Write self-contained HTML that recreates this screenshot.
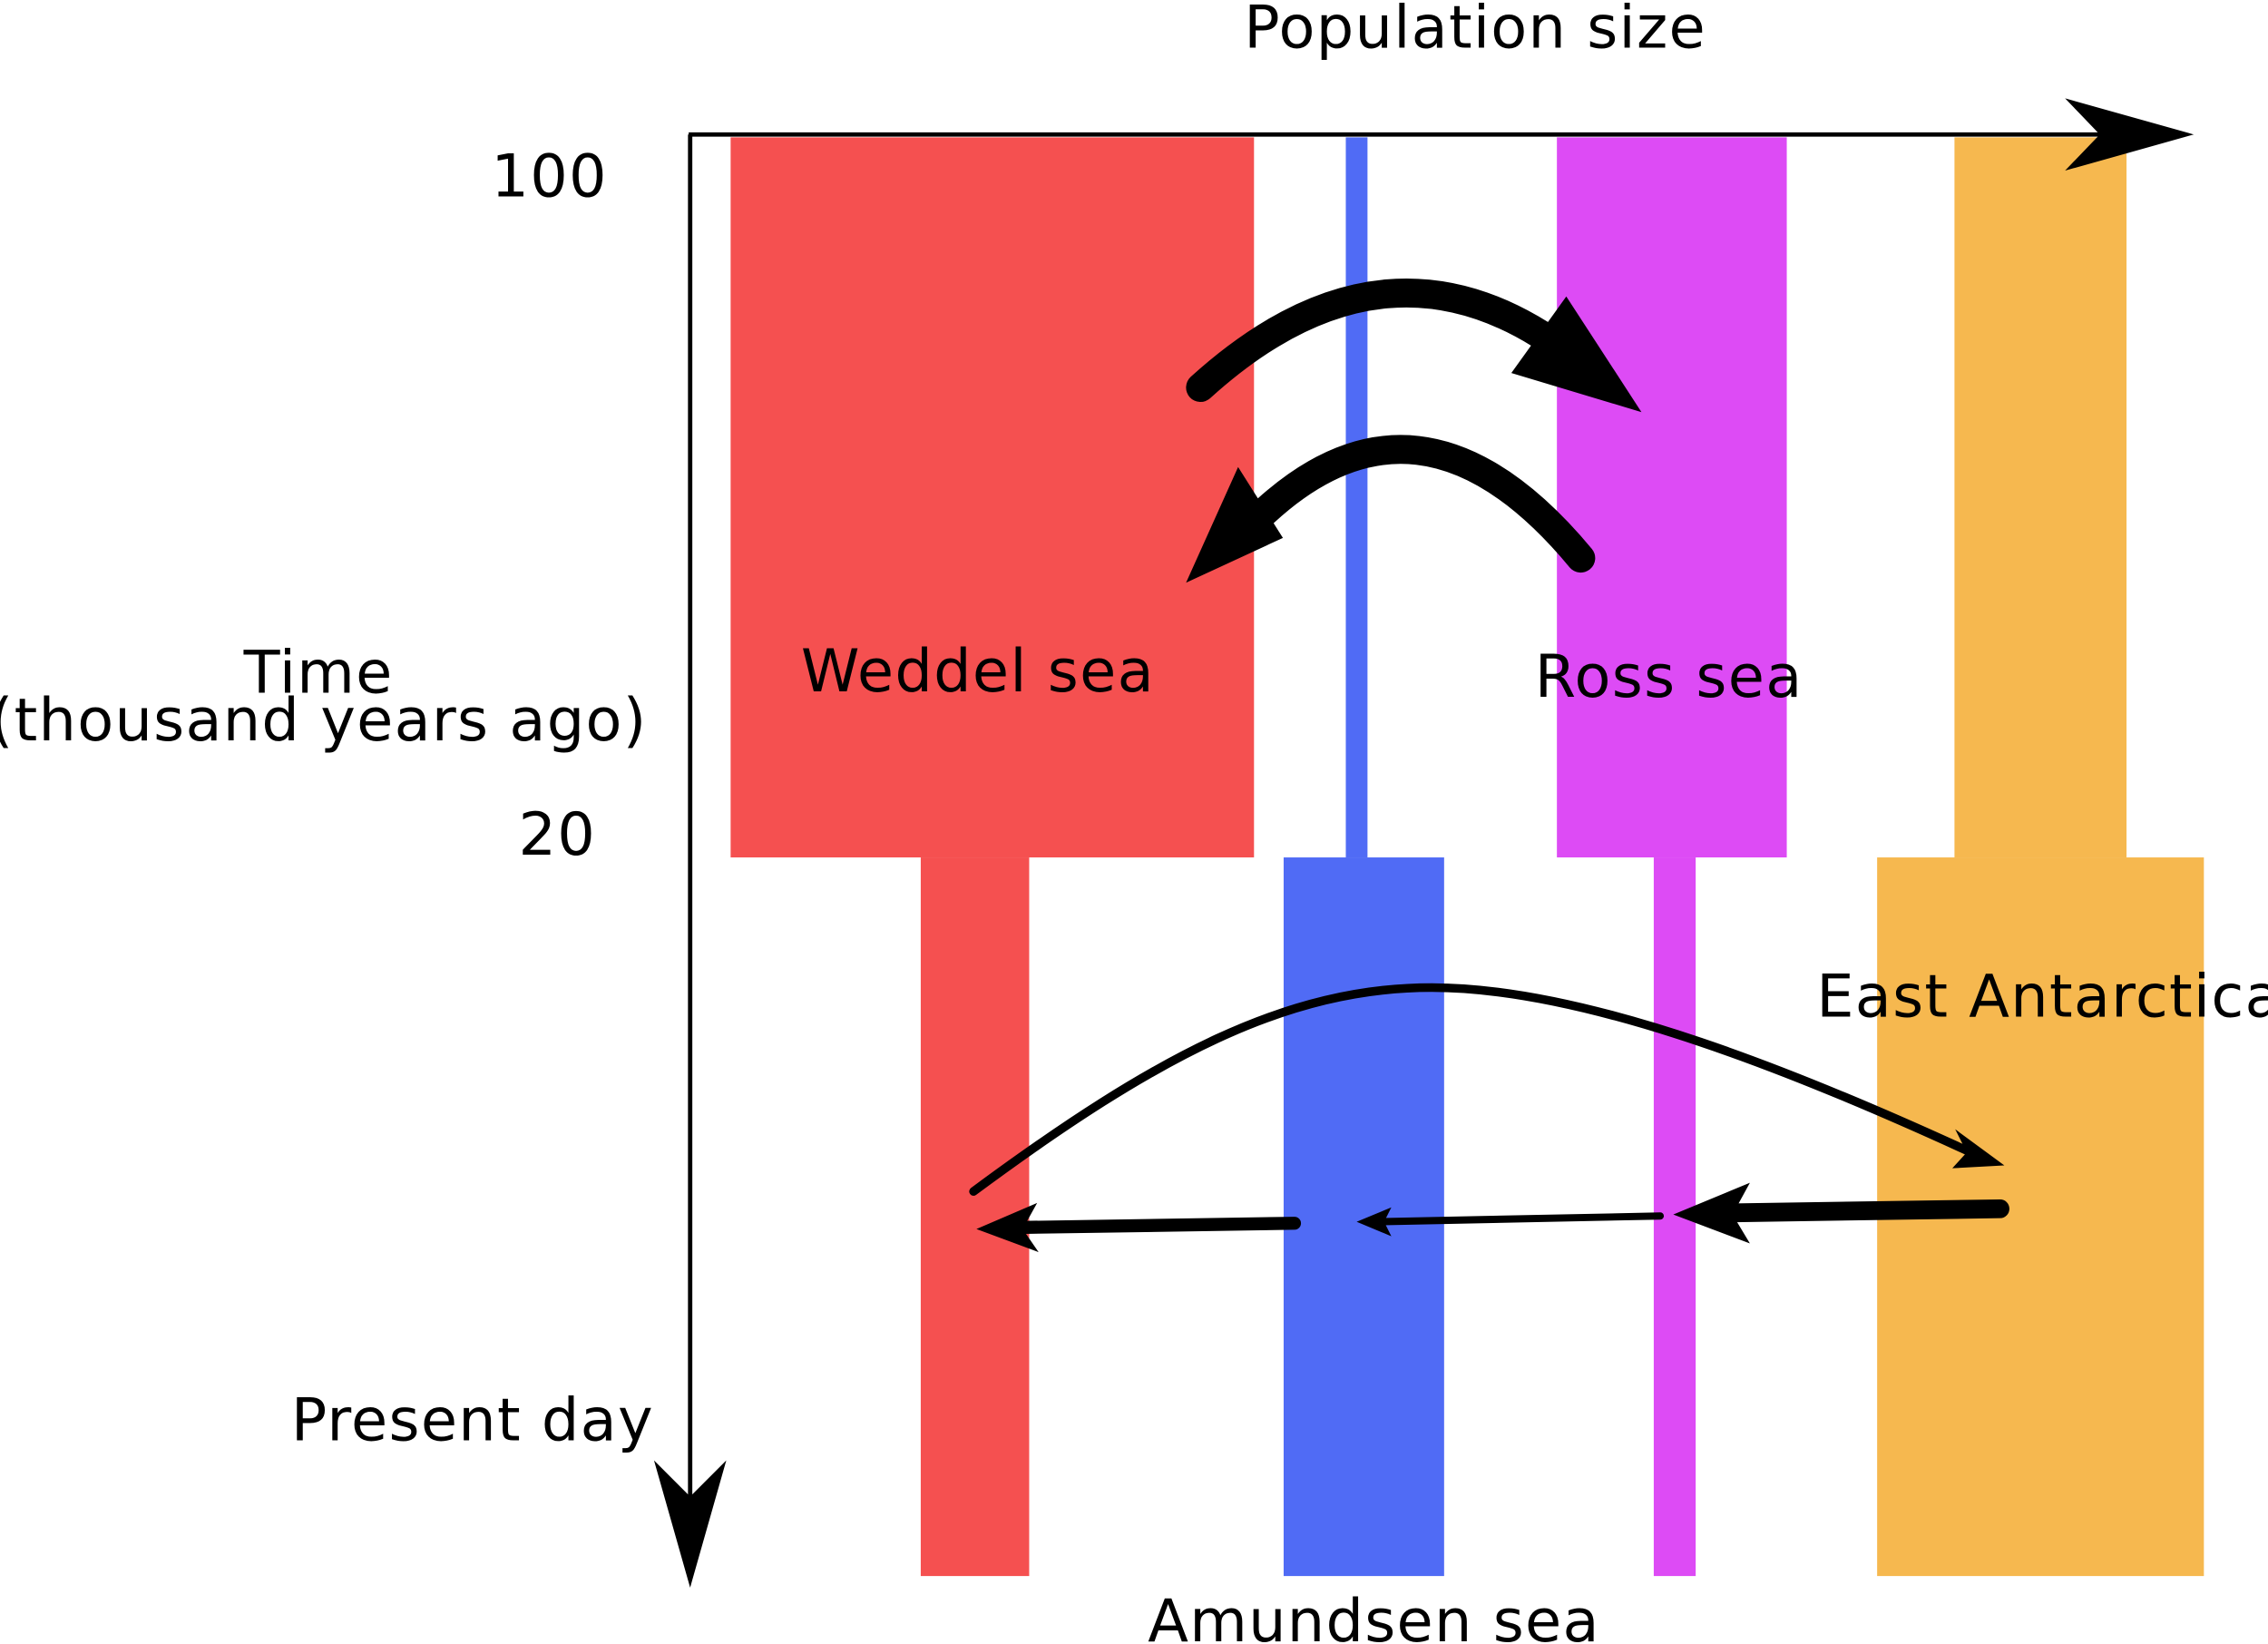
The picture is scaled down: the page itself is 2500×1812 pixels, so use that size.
<!DOCTYPE html>
<html>
<head>
<meta charset="utf-8">
<style>
html,body{margin:0;padding:0;background:#fff;}
svg{display:block;}
text{font-family:"DejaVu Sans","Liberation Sans",sans-serif;fill:#000;letter-spacing:0.8px;}
</style>
</head>
<body>
<svg id="chart" width="2500" height="1812" viewBox="0 0 1568 1137" xmlns="http://www.w3.org/2000/svg">
  <g id="bars"></g>

  <line x1="477" y1="93" x2="477" y2="1060" stroke="#000" stroke-width="3"/>
  <path d="M477,1098 L452,1010 L477,1035 L502,1010 z" fill="#000"/>
  <line x1="476" y1="93" x2="1480" y2="93" stroke="#000" stroke-width="3"/>
  <path d="M1517,93 L1428,68 L1452,93 L1428,118 z" fill="#000"/>

  <text x="1020" y="33" font-size="41" text-anchor="middle">Population size</text>
  <text x="420" y="136" font-size="41" text-anchor="end">100</text>
  <text x="412" y="591" font-size="41" text-anchor="end">20</text>
  <text x="220" y="479" font-size="41" text-anchor="middle">Time</text>
  <text x="220" y="512" font-size="41" text-anchor="middle">(thousand years ago)</text>
  <text x="452" y="996" font-size="41" text-anchor="end">Present day</text>

  <text x="676" y="478" font-size="41" text-anchor="middle">Weddel sea</text>
  <text x="1154" y="482" font-size="41" text-anchor="middle">Ross sea</text>
  <text x="1256" y="703" font-size="41">East Antarctica</text>
  <text x="950" y="1135" font-size="41" text-anchor="middle">Amundsen sea</text>

  <path d="M830,268 Q960,150 1085,245" fill="none" stroke="#000" stroke-width="20" stroke-linecap="round"/>
  <path d="M1135,285 L1045,258 L1083,205 z" fill="#000"/>
  <path d="M1093,386 Q980,250 868,360" fill="none" stroke="#000" stroke-width="20" stroke-linecap="round"/>
  <path d="M820,403 L856,323 L887,372 z" fill="#000"/>
  <path d="M673,824 C800,730 890,683 990,683 C1100,683 1250,745 1365,798" fill="none" stroke="#000" stroke-width="6" stroke-linecap="round"/>
  <path d="M1386,806 L1352,781 L1360,797 L1350,808 z" fill="#000"/>
  <line x1="895" y1="846" x2="700" y2="849" stroke="#000" stroke-width="9" stroke-linecap="round"/>
  <path d="M675,850 L717,832 L707,850 L718,866 z" fill="#000"/>
  <line x1="1148" y1="841" x2="950" y2="845" stroke="#000" stroke-width="5" stroke-linecap="round"/>
  <path d="M938,845 L962,835 L957,845 L962,855 z" fill="#000"/>
  <line x1="1383" y1="836" x2="1185" y2="839" stroke="#000" stroke-width="13" stroke-linecap="round"/>
  <path d="M1157,840 L1210,818 L1198,840 L1210,860 z" fill="#000"/>
</svg>
<script>
const regions = ["weddel-sea", "amundsen-sea", "ross-sea", "east-antarctica"];
const ancientSize = [362, 15, 159, 119];
const modernSize = [75, 111, 29, 226];
const colors = ["#F55050", "#506BF5", "#DD4BF5", "#F6B84F"];
// layout
const layout = {ancientCenters: [686, 938, 1156, 1411], modernCenters: [674, 943, 1158, 1411]};
const yTop = 95, ySplit = 593, yBottom = 1090;
const widthScale = v => v;
const g = document.getElementById('bars');
const NS = "http://www.w3.org/2000/svg";
regions.forEach((r, i) => {
  const a = document.createElementNS(NS, 'rect');
  const wa = widthScale(ancientSize[i]);
  a.setAttribute('x', layout.ancientCenters[i] - wa / 2);
  a.setAttribute('y', yTop);
  a.setAttribute('width', wa);
  a.setAttribute('height', ySplit - yTop);
  a.setAttribute('fill', colors[i]);
  
  
  g.appendChild(a);
  const m = document.createElementNS(NS, 'rect');
  const wm = widthScale(modernSize[i]);
  m.setAttribute('x', layout.modernCenters[i] - wm / 2);
  m.setAttribute('y', ySplit);
  m.setAttribute('width', wm);
  m.setAttribute('height', yBottom - ySplit);
  m.setAttribute('fill', colors[i]);
  
  
  g.appendChild(m);
});
</script>
</body>
</html>
